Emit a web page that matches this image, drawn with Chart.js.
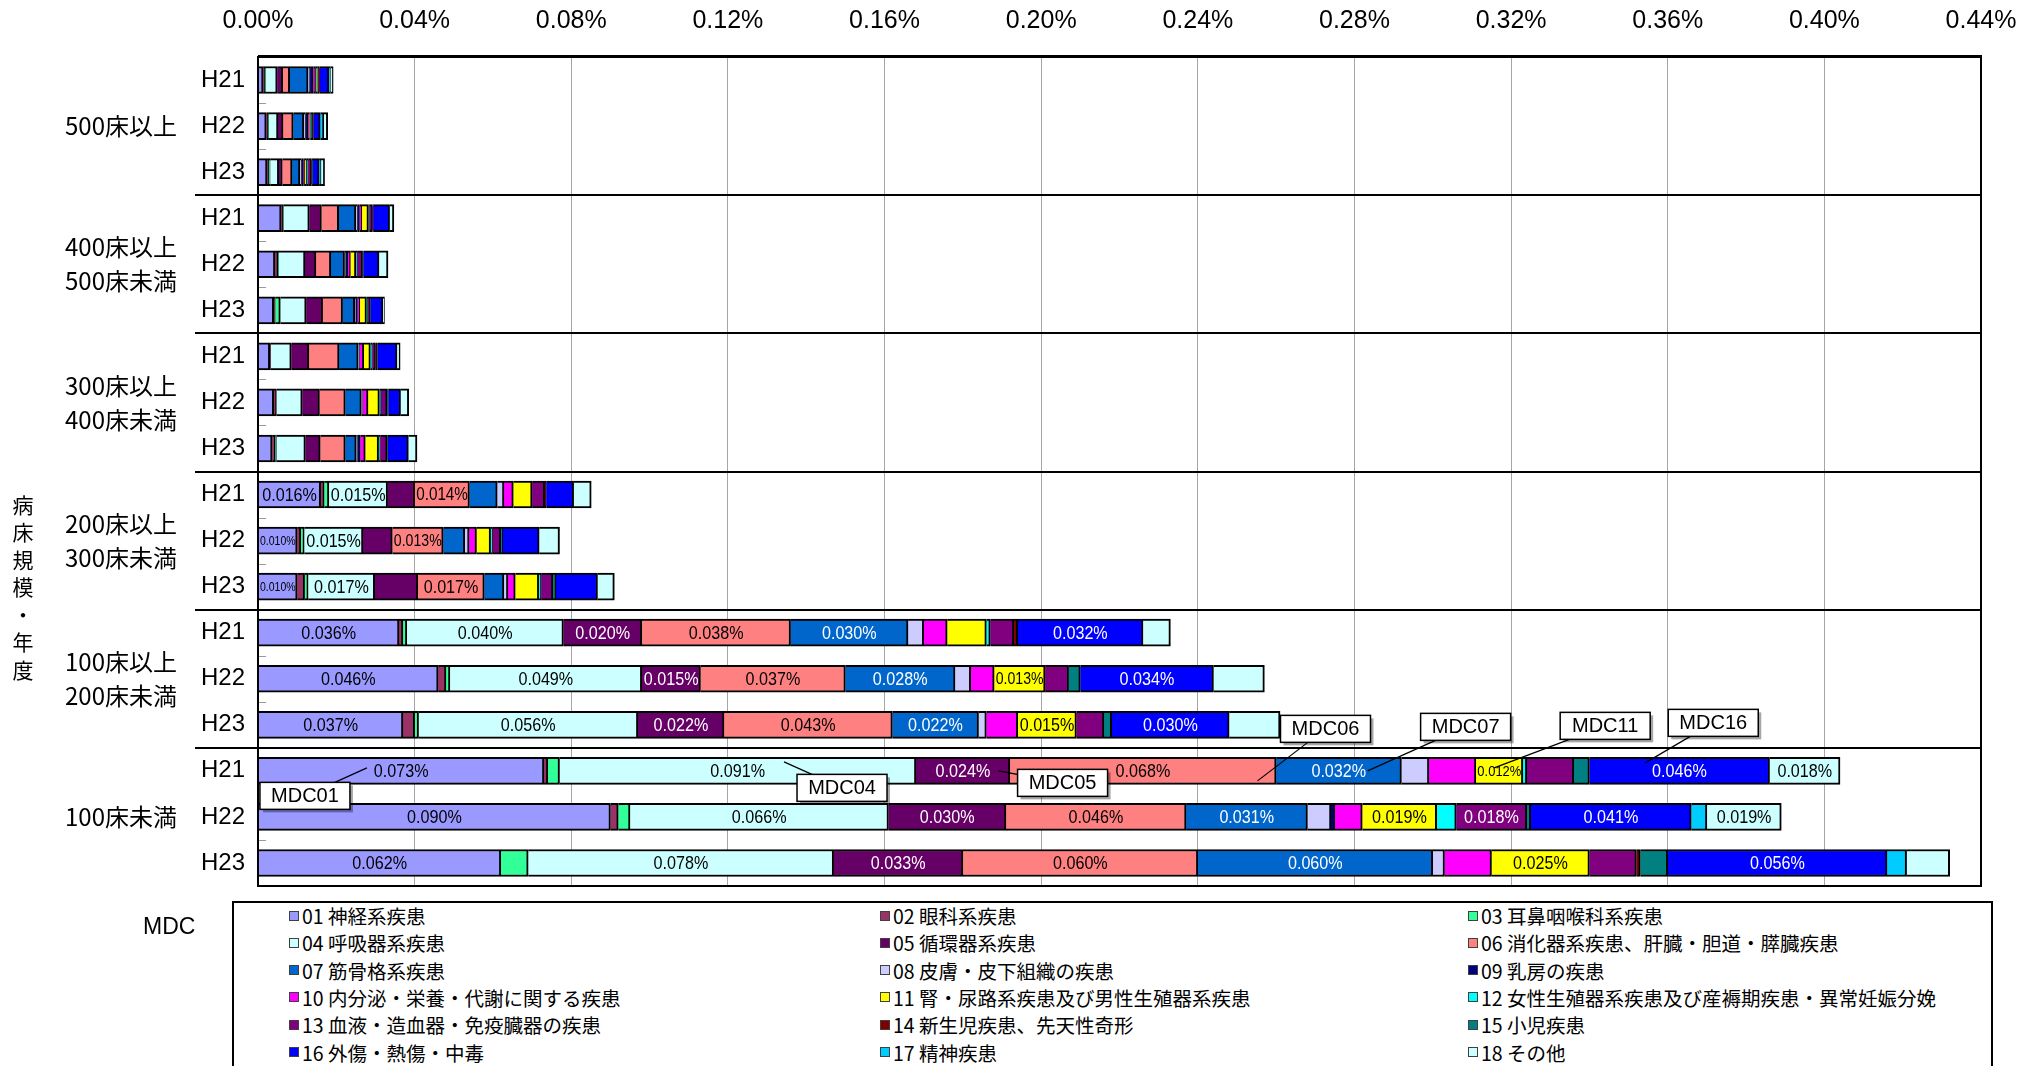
<!DOCTYPE html>
<html>
<head>
<meta charset="utf-8">
<script src="https://cdn.jsdelivr.net/npm/chart.js@4.4.1/dist/chart.umd.min.js"></script>
<style>
  html, body { margin: 0; padding: 0; background: #fff; }
  #wrap { position: relative; width: 2042px; height: 1066px; overflow: hidden; }
  #c { position: absolute; left: 0; top: 0; }
  #legend { position: absolute; left: 232px; top: 901px; width: 1761px; height: 190px;
            border: 2px solid #000; box-sizing: border-box; background: #fff; }
  .item { position: absolute; height: 24px; display: flex; align-items: center; white-space: nowrap;
          font: 19.5px "Noto Sans CJK JP", sans-serif; color: #000; }
  .sw { width: 8px; height: 8px; border: 1px solid #404040; margin-right: 3px; flex: none; }
  #mdc { position: absolute; left: 143px; top: 913px; font: 23px "Liberation Sans", sans-serif; color: #000; }
</style>
</head>
<body>
<div id="wrap">
  <canvas id="c" width="2042" height="1066"></canvas>
  <div id="mdc">MDC</div>
  <div id="legend"></div>
</div>
<script>
// Bed-size groups and fiscal years (rows, top to bottom)
const groups = [['500床以上'], ['400床以上', '500床未満'], ['300床以上', '400床未満'],
                ['200床以上', '300床未満'], ['100床以上', '200床未満'], ['100床未満']];
const years = ['H21', 'H22', 'H23'];
const categories = groups.flatMap(() => years);

// Axis ticks (percent)
const xTickValues = [0, 0.04, 0.08, 0.12, 0.16, 0.20, 0.24, 0.28, 0.32, 0.36, 0.40, 0.44];

// MDC names
const mdcNames = [
  '01 神経系疾患', '02 眼科系疾患', '03 耳鼻咽喉科系疾患',
  '04 呼吸器系疾患', '05 循環器系疾患', '06 消化器系疾患、肝臓・胆道・膵臓疾患',
  '07 筋骨格系疾患', '08 皮膚・皮下組織の疾患', '09 乳房の疾患',
  '10 内分泌・栄養・代謝に関する疾患', '11 腎・尿路系疾患及び男性生殖器系疾患', '12 女性生殖器系疾患及び産褥期疾患・異常妊娠分娩',
  '13 血液・造血器・免疫臓器の疾患', '14 新生児疾患、先天性奇形', '15 小児疾患',
  '16 外傷・熱傷・中毒', '17 精神疾患', '18 その他'
];

// Values per MDC (%), one entry per row
const mdc01 = [0.0013, 0.0021, 0.0023, 0.0059, 0.0043, 0.0040, 0.0030, 0.0040, 0.0036, 0.016, 0.010, 0.010, 0.036, 0.046, 0.037, 0.073, 0.090, 0.062];
const mdc02 = [0.0005, 0.0004, 0.0005, 0.0004, 0.0008, 0.0004, 0.0002, 0.0007, 0.0008, 0.0009, 0.0009, 0.0019, 0.001, 0.002, 0.003, 0.001, 0.002, 0];
const mdc03 = [0.0002, 0.0002, 0.0003, 0.0002, 0.0002, 0.0013, 0, 0, 0.0003, 0.0012, 0.0009, 0.0009, 0.001, 0.001, 0.001, 0.003, 0.003, 0.007];
const mdc04 = [0.0029, 0.0024, 0.0022, 0.0066, 0.0067, 0.0066, 0.0053, 0.0066, 0.0074, 0.015, 0.015, 0.017, 0.040, 0.049, 0.056, 0.091, 0.066, 0.078];
const mdc05 = [0.0014, 0.0013, 0.0009, 0.0031, 0.0028, 0.0042, 0.0045, 0.0044, 0.0038, 0.0069, 0.0075, 0.011, 0.020, 0.015, 0.022, 0.024, 0.030, 0.033];
const mdc06 = [0.0018, 0.0026, 0.0025, 0.0044, 0.0038, 0.0051, 0.0077, 0.0066, 0.0064, 0.014, 0.013, 0.017, 0.038, 0.037, 0.043, 0.068, 0.046, 0.060];
const mdc07 = [0.0047, 0.0027, 0.0020, 0.0044, 0.0035, 0.0031, 0.0049, 0.0041, 0.0028, 0.0071, 0.0055, 0.005, 0.030, 0.028, 0.022, 0.032, 0.031, 0.060];
const mdc08 = [0.0005, 0.0004, 0.0004, 0.0004, 0.0003, 0.0003, 0.0004, 0.0004, 0.0003, 0.0017, 0.0011, 0.001, 0.004, 0.004, 0.002, 0.007, 0.006, 0.003];
const mdc09 = [0.0008, 0.0006, 0.0005, 0.0005, 0.0005, 0.0004, 0, 0, 0.0007, 0, 0, 0, 0, 0, 0, 0, 0.001, 0];
const mdc10 = [0.0006, 0.0004, 0.0003, 0.0006, 0.0007, 0.0006, 0.0010, 0.0013, 0.0013, 0.0024, 0.0019, 0.0019, 0.006, 0.006, 0.008, 0.012, 0.007, 0.012];
const mdc11 = [0.0004, 0.0003, 0.0005, 0.0017, 0.0014, 0.0017, 0.0017, 0.0029, 0.0034, 0.0048, 0.0036, 0.006, 0.010, 0.013, 0.015, 0.012, 0.019, 0.025];
const mdc12 = [0.0002, 0.0003, 0.0004, 0.0002, 0.0003, 0.0003, 0.0005, 0.0004, 0.0004, 0, 0.0005, 0.0006, 0.001, 0, 0, 0.001, 0.005, 0];
const mdc13 = [0.0003, 0.0003, 0.0008, 0.0008, 0.0014, 0.0006, 0.0008, 0.0016, 0.0018, 0.0032, 0.0021, 0.003, 0.006, 0.006, 0.007, 0.012, 0.018, 0.012];
const mdc14 = [0.0001, 0.0001, 0.0002, 0.0002, 0, 0, 0.0003, 0, 0, 0.0004, 0, 0, 0.001, 0, 0, 0, 0, 0.001];
const mdc15 = [0.0001, 0.0002, 0.0002, 0, 0.0002, 0.0002, 0.0002, 0.0003, 0.0002, 0, 0.0005, 0.0008, 0, 0.003, 0.002, 0.004, 0.001, 0.007];
const mdc16 = [0.0023, 0.0016, 0.0016, 0.0042, 0.0040, 0.0031, 0.0050, 0.0031, 0.0052, 0.0070, 0.0093, 0.0106, 0.032, 0.034, 0.030, 0.046, 0.041, 0.056];
const mdc17 = [0.0004, 0.0009, 0.0005, 0, 0, 0, 0, 0, 0, 0, 0, 0, 0, 0, 0, 0, 0.004, 0.005];
const mdc18 = [0.0007, 0.0010, 0.0009, 0.0011, 0.0023, 0.0004, 0.0008, 0.0021, 0.0022, 0.0045, 0.0052, 0.0043, 0.007, 0.013, 0.013, 0.018, 0.019, 0.011];

const series = [mdc01, mdc02, mdc03, mdc04, mdc05, mdc06, mdc07, mdc08, mdc09,
                mdc10, mdc11, mdc12, mdc13, mdc14, mdc15, mdc16, mdc17, mdc18];

// Segments that carry a value label: [row, MDC numbers]
const labelledSegments = [
  [9, [1, 4, 6]], [10, [1, 4, 6]], [11, [1, 4, 6]],
  [12, [1, 4, 5, 6, 7, 16]],
  [13, [1, 4, 5, 6, 7, 11, 16]],
  [14, [1, 4, 5, 6, 7, 11, 16]],
  [15, [1, 4, 5, 6, 7, 11, 16, 18]],
  [16, [1, 4, 5, 6, 7, 11, 13, 16, 18]],
  [17, [1, 4, 5, 6, 7, 11, 16]]
];

// Callout boxes naming segments of the 100床未満 H21 bar
const callouts = [
  { text: 'MDC01', row: 15, mdc: 1,  frac: 0.38, dy: -3, bx: -62, by: 28 },
  { text: 'MDC04', row: 15, mdc: 4,  frac: 0.63, dy: -9, bx: 58,  by: 26 },
  { text: 'MDC05', row: 15, mdc: 5,  frac: 0.88, dy: 0,  bx: 64,  by: 12 },
  { text: 'MDC06', row: 15, mdc: 6,  frac: 0.93, dy: 10, bx: 68,  by: -52 },
  { text: 'MDC07', row: 15, mdc: 7,  frac: 0.73, dy: 0,  bx: 98,  by: -44 },
  { text: 'MDC11', row: 15, mdc: 11, frac: 0.39, dy: -3, bx: 111, by: -42 },
  { text: 'MDC16', row: 15, mdc: 16, frac: 0.31, dy: -8, bx: 68,  by: -40 }
];

const mdcColors = ['#9999FF', '#993366', '#33FF99', '#CCFFFF', '#660066', '#FF8080',
                   '#0066CC', '#CCCCFF', '#000080', '#FF00FF', '#FFFF00', '#00FFFF',
                   '#800080', '#800000', '#008080', '#0000FF', '#00CCFF', '#CCFFFF'];
const darkSeries = new Set([5, 7, 13, 16]);

const SANS = '"Liberation Sans", sans-serif';
const CJK = '"Noto Sans CJK JP", sans-serif';
const LABEL_SQUEEZE = 0.85;   // horizontal squeeze for the in-bar value labels

// Frame, group dividers, group names and the vertical axis title
const framePlugin = {
  id: 'frame',
  afterDatasetsDraw(chart) {
    const { ctx } = chart;
    const { left, right, top, bottom } = chart.chartArea;
    const rowH = (bottom - top) / categories.length;
    ctx.save();
    ctx.strokeStyle = '#9a9a9a';
    ctx.lineWidth = 1;
    for (let i = 1; i < categories.length; i++) {
      if (i % years.length === 0) continue;
      const y = Math.round(top + i * rowH) + 0.5;
      ctx.beginPath(); ctx.moveTo(left, y); ctx.lineTo(left + 8, y); ctx.stroke();
    }
    ctx.strokeStyle = '#000';
    ctx.lineWidth = 2;
    for (let g = 1; g < groups.length; g++) {
      const y = Math.round(top + g * years.length * rowH);
      ctx.beginPath(); ctx.moveTo(195, y); ctx.lineTo(right, y); ctx.stroke();
    }
    ctx.strokeRect(left, top, right - left, bottom - top);
    ctx.lineWidth = 3;
    ctx.beginPath(); ctx.moveTo(left, top - 0.5); ctx.lineTo(right + 1, top - 0.5); ctx.stroke();
    ctx.restore();
  },
  afterDraw(chart) {
    const { ctx } = chart;
    const { top, bottom } = chart.chartArea;
    const rowH = (bottom - top) / categories.length;
    ctx.save();
    ctx.fillStyle = '#000';
    ctx.textAlign = 'left';
    ctx.textBaseline = 'middle';
    ctx.font = '24px ' + CJK;
    groups.forEach((lines, g) => {
      const cy = top + (g * years.length + years.length / 2) * rowH;
      lines.forEach((t, k) => {
        const y = cy + (k - (lines.length - 1) / 2) * 34;
        ctx.fillText(t, 65, y);
      });
    });
    // vertical title, one character per line
    const title = '病床規模・年度';
    ctx.font = '21px ' + CJK;
    ctx.textAlign = 'center';
    [...title].forEach((ch, i) => ctx.fillText(ch, 23, 505 + i * 27.5));
    ctx.restore();
  }
};

// Value labels inside the segments
const labelPlugin = {
  id: 'segLabels',
  afterDatasetsDraw(chart) {
    const { ctx } = chart;
    ctx.save();
    ctx.textAlign = 'center';
    ctx.textBaseline = 'middle';
    labelledSegments.forEach(([row, list]) => {
      list.forEach(m => {
        const el = chart.getDatasetMeta(m - 1).data[row];
        const v = series[m - 1][row];
        const text = v.toFixed(3) + '%';
        const x0 = Math.min(el.base, el.x), x1 = Math.max(el.base, el.x);
        const avail = x1 - x0 - 3;
        let size = 19;
        ctx.font = size + 'px ' + SANS;
        const w = ctx.measureText(text).width * LABEL_SQUEEZE;
        if (w > avail) { size = Math.max(11, size * avail / w); ctx.font = size + 'px ' + SANS; }
        ctx.fillStyle = darkSeries.has(m) ? '#fff' : '#000';
        ctx.save();
        ctx.translate((x0 + x1) / 2, el.y + 1);
        ctx.scale(LABEL_SQUEEZE, 1);
        ctx.fillText(text, 0, 0);
        ctx.restore();
      });
    });
    ctx.restore();
  }
};

// Callout boxes with leader lines
const calloutPlugin = {
  id: 'callouts',
  afterDatasetsDraw(chart) {
    const { ctx } = chart;
    ctx.save();
    callouts.forEach(c => {
      const el = chart.getDatasetMeta(c.mdc - 1).data[c.row];
      const x0 = Math.min(el.base, el.x), x1 = Math.max(el.base, el.x);
      const tx = x0 + c.frac * (x1 - x0), ty = el.y + c.dy;
      const cx = tx + c.bx, cy = ty + c.by;
      const w = 90, h = 27;
      ctx.strokeStyle = '#000';
      ctx.lineWidth = 1.2;
      ctx.beginPath(); ctx.moveTo(cx, cy); ctx.lineTo(tx, ty); ctx.stroke();
      ctx.fillStyle = 'rgba(0,0,0,0.35)';
      ctx.fillRect(cx - w / 2 + 3, cy - h / 2 + 3, w, h);
      ctx.fillStyle = '#fff';
      ctx.fillRect(cx - w / 2, cy - h / 2, w, h);
      ctx.lineWidth = 1.5;
      ctx.strokeRect(cx - w / 2, cy - h / 2, w, h);
      ctx.fillStyle = '#000';
      ctx.font = '20px ' + SANS;
      ctx.textAlign = 'center';
      ctx.textBaseline = 'middle';
      ctx.fillText(c.text, cx, cy + 1);
    });
    ctx.restore();
  }
};

new Chart(document.getElementById('c'), {
  type: 'bar',
  data: {
    labels: categories,
    datasets: series.map((vals, i) => ({
      label: mdcNames[i],
      data: vals,
      backgroundColor: mdcColors[i],
      borderColor: '#000',
      borderWidth: 2,
      borderSkipped: 'start',
      barThickness: 27
    }))
  },
  options: {
    indexAxis: 'y',
    responsive: false,
    animation: false,
    devicePixelRatio: 1,
    layout: { padding: { left: 0, right: 61, top: 0, bottom: 180 } },
    plugins: { legend: { display: false }, tooltip: { enabled: false } },
    scales: {
      x: {
        type: 'linear',
        position: 'top',
        stacked: true,
        min: 0,
        max: 0.44,
        afterBuildTicks: s => { s.ticks = xTickValues.map(v => ({ value: v })); },
        afterFit: s => { s.height = 57; },
        ticks: {
          callback: v => Number(v).toFixed(2) + '%',
          font: { family: SANS, size: 25 },
          color: '#000',
          padding: 21,
          maxRotation: 0,
          autoSkip: false
        },
        grid: { color: '#a6a6a6', lineWidth: 1, drawTicks: false },
        border: { display: false }
      },
      y: {
        stacked: true,
        afterFit: s => { s.width = 258; },
        ticks: { font: { family: SANS, size: 24 }, color: '#000', padding: 13, autoSkip: false },
        grid: { display: false, drawTicks: false },
        border: { display: false }
      }
    }
  },
  plugins: [framePlugin, labelPlugin, calloutPlugin]
});

// Legend: three columns, row-major
const legendEl = document.getElementById('legend');
const colX = [289, 880, 1468];
mdcNames.forEach((name, i) => {
  const r = Math.floor(i / 3), c = i % 3;
  const item = document.createElement('div');
  item.className = 'item';
  item.style.left = (colX[c] - 232 - 2) + 'px';
  item.style.top = (915.5 + r * 27.3 - 901 - 2 - 12) + 'px';
  const sw = document.createElement('span');
  sw.className = 'sw';
  sw.style.background = mdcColors[i];
  const tx = document.createElement('span');
  tx.textContent = name;
  item.appendChild(sw);
  item.appendChild(tx);
  legendEl.appendChild(item);
});
</script>
</body>
</html>
